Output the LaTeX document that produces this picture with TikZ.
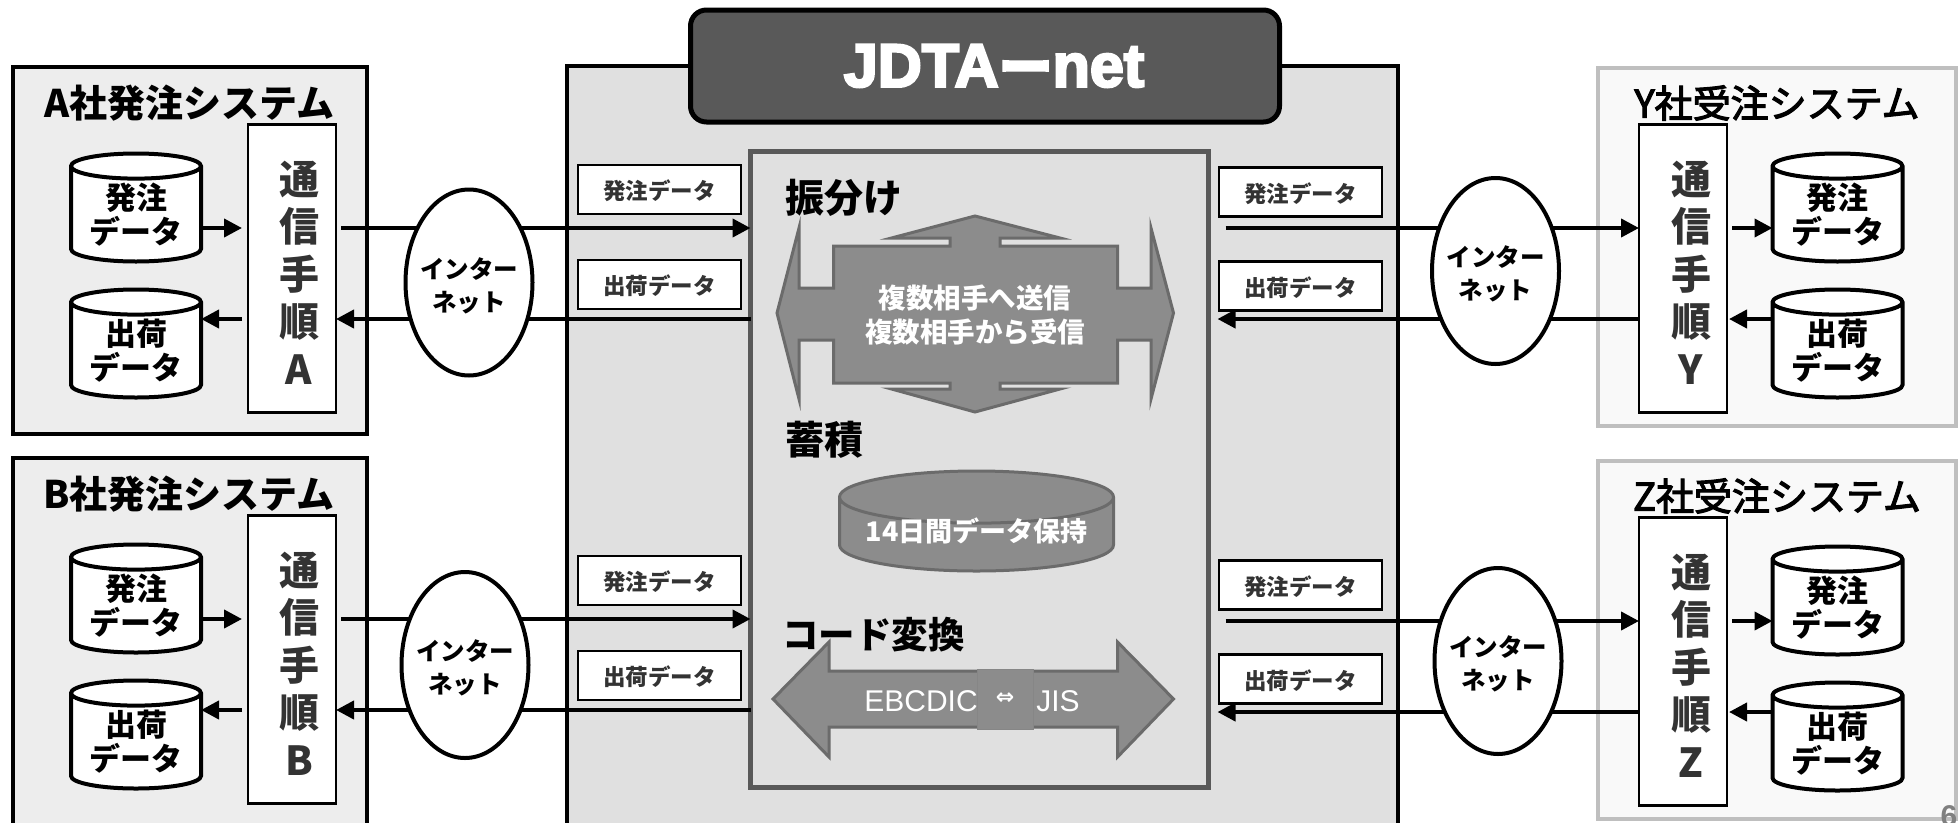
\documentclass[tikz,border=0pt]{standalone}
\usepackage{fontspec}
\setmainfont{Noto Sans CJK JP}
\newfontfamily\mediumfont[FakeBold=3]{Noto Sans CJK JP}
\newfontfamily\latinfont{Liberation Sans}
\newfontfamily\bannerfont[FakeBold=4]{Liberation Sans}
\newfontfamily\bannerdash[FakeBold=3]{Noto Sans CJK JP}
\newfontfamily\symbolfont{DejaVu Sans}
\usetikzlibrary{arrows.meta,shapes.geometric}
\definecolor{panel}{HTML}{E0E0E0}
\definecolor{leftpanel}{HTML}{EDEDED}
\definecolor{rightpanel}{HTML}{F9F9F9}
\definecolor{rightline}{HTML}{BFBFBF}
\definecolor{banner}{HTML}{595959}
\definecolor{shapefill}{HTML}{8C8C8C}
\definecolor{shapeline}{HTML}{6B6B6B}
\definecolor{inktext}{HTML}{333333}
\begin{document}
\begin{tikzpicture}[x=1pt,y=-1pt,
  >={Triangle[length=18pt,width=18pt]},
  flow/.style={line width=4pt},
  syspanel/.style={rectangle,draw,line width=4pt,minimum width=354pt,minimum height=367pt,inner sep=0pt,outer sep=0pt},
  systitle/.style={font=\fontsize{38}{42}\selectfont\bfseries},
  commbox/.style={rectangle,draw,fill=white,line width=2.5pt,minimum width=88pt,minimum height=288pt,inner sep=0pt,outer sep=0pt},
  commtext/.style={align=center,text=inktext,font=\fontsize{40}{47.5}\selectfont\bfseries},
  store/.style={cylinder,shape border rotate=90,aspect=0.27,anchor=shape center,draw,fill=white,line width=4pt,minimum width=130pt,minimum height=108pt,inner sep=0pt,outer sep=0pt,align=center,font=\fontsize{31}{34}\selectfont\bfseries},
  net/.style={ellipse,draw,fill=white,line width=4pt,minimum width=127pt,minimum height=186pt,inner sep=0pt,outer sep=0pt},
  nettext/.style={align=center,inner sep=0pt,font=\fontsize{24.5}{33}\selectfont\bfseries},
  tag/.style={rectangle,draw,fill=white,line width=2.5pt,minimum width=163pt,minimum height=49pt,inner sep=0pt,outer sep=0pt,text=inktext,text height=22pt,text depth=2pt,font=\fontsize{22.5}{26}\selectfont\bfseries},
  heading/.style={anchor=west,inner sep=0pt,font=\fontsize{39}{42}\selectfont\bfseries},
  whitetext/.style={align=center,text=white,font=\fontsize{27.5}{34}\selectfont\bfseries},
  greyshape/.style={draw=shapeline,fill=shapefill,line width=3pt,line join=miter}]
\clip (0,0) rectangle (1959,822);
\fill[white] (0,0) rectangle (1959,822);
% centre panel
\node[rectangle,draw,fill=panel,line width=4pt,minimum width=831pt,minimum height=774pt] (jdta) at (982.5,453) {};
\node[rectangle,draw=banner,fill=panel,line width=5pt,minimum width=458pt,minimum height=636pt,inner sep=0pt,outer sep=0pt] (core) at (979.5,469.5) {};
\node[rectangle,rounded corners=16pt,draw,fill=banner,line width=5pt,minimum width=589pt,minimum height=112pt,text=white,font=\fontsize{61}{66}\selectfont] (title) at (985,66) {\hspace*{18pt}\bannerfont\bfseries JDTA\bannerdash\fontsize{54}{66}\selectfont ー\bannerfont\fontsize{61}{66}\selectfont\bfseries net};
\node[heading] (route) at (785,198) {振分け};
\node[heading] (keep) at (785,440) {蓄積};
\node[heading,font=\fontsize{36.5}{42}\selectfont\bfseries] (convert) at (782,635) {コード変換};
% four way arrow
\draw[greyshape] (975,216) -- (1060,238) -- (1000,238) -- (1000,246) -- (1117.5,246) -- (1117.5,288) -- (1151,288) -- (1151,228) -- (1173.5,313) -- (1151,399) -- (1151,340) -- (1117.5,340) -- (1117.5,383) -- (1000,383) -- (1000,389) -- (1060,389) -- (975,412) -- (891.5,389) -- (950,389) -- (950,383) -- (833.5,383) -- (833.5,340) -- (799,340) -- (799,399) -- (777,313) -- (799,228) -- (799,288) -- (833.5,288) -- (833.5,246) -- (950,246) -- (950,238) -- (891.5,238) -- cycle;
\node[whitetext] (sendrecv) at (975,315) {複数相手へ送信\\複数相手から受信};
\node[cylinder,shape border rotate=90,aspect=0.235,anchor=shape center,draw=shapeline,fill=shapefill,line width=3pt,minimum width=274pt,minimum height=100pt,inner sep=0pt,whitetext,text height=15pt,text depth=2.4pt,font=\fontsize{27}{32}\selectfont\bfseries] (archive) at (976.5,521) {14日間データ保持};
% two way arrow
\draw[greyshape] (773,699) -- (829,642) -- (829,671) -- (1117.5,671) -- (1117.5,642) -- (1173.5,699) -- (1117.5,757) -- (1117.5,727) -- (829,727) -- (829,757) -- cycle;
\node[rectangle,draw=shapefill!96!black,fill=shapefill,line width=1pt,minimum width=56pt,minimum height=60pt,inner sep=0pt,text=white,font=\fontsize{22}{26}\selectfont] (swap) at (1005,699) {\symbolfont\bfseries ⇔};
\node[text=white,inner sep=0pt,font=\fontsize{30}{32}\selectfont] (ebcdic) at (921,701) {\latinfont EBCDIC};
\node[text=white,inner sep=0pt,font=\fontsize{30}{32}\selectfont] (jis) at (1058,701) {\latinfont JIS};
% left systems
\foreach \sys/\dy/\ex/\ey in {A/0/469/282.5,B/391/465/274}{
\begin{scope}[shift={(0,\dy)}]
\node[syspanel,fill=leftpanel] (panel\sys) at (189.5,250) {};
\node[systitle] (name\sys) at (189,103) {\sys 社発注システム};
\node[commbox] (comm\sys) at (292,268.5) {};
\node[commtext] (proto\sys) at (299,272.5) {通\\信\\手\\順\\\sys};
\node[store] (order\sys) at (136,207.5) {発注\\データ};
\node[store] (ship\sys) at (136,343.5) {出荷\\データ};
\node[tag] (ordertag\sys) at (659.5,189.5) {発注データ};
\node[tag] (shiptag\sys) at (659.5,284.5) {出荷データ};
\coordinate (up\sys) at (0,228);
\coordinate (down\sys) at (0,319);
\draw[flow,->] (order\sys.east |- up\sys) -- ([xshift=-6pt]comm\sys.west |- up\sys);
\draw[flow,->] ([xshift=-6pt]comm\sys.west |- down\sys) -- (ship\sys.east |- down\sys);
\draw[flow,->] ([xshift=5pt]comm\sys.east |- up\sys) -- (core.west |- up\sys);
\draw[flow,->] (core.west |- down\sys) -- (comm\sys.east |- down\sys);
\node[net] (net\sys) at (\ex,\ey) {};
\node[nettext] (nettext\sys) at ([yshift=-3pt]net\sys.center) {インター\\ネット};
\end{scope}
}
% right systems
\foreach \sys/\dy/\ex/\ey in {Y/0/1495.5/271,Z/393/1498/268}{
\begin{scope}[shift={(0,\dy)}]
\node[syspanel,draw=rightline,fill=rightpanel,minimum width=358pt,minimum height=358pt] (panel\sys) at (1776.5,246.5) {};
\node[systitle,font=\fontsize{38}{42}\selectfont\mediumfont] (name\sys) at (1777,103) {\sys 社受注システム};
\node[commbox] (comm\sys) at (1683,268.5) {};
\node[commtext] (proto\sys) at (1691,272.5) {通\\信\\手\\順\\\sys};
\node[store] (order\sys) at (1837.5,207.5) {発注\\データ};
\node[store] (ship\sys) at (1837.5,343.5) {出荷\\データ};
\node[tag] (ordertag\sys) at (1300.5,192) {発注データ};
\node[tag] (shiptag\sys) at (1300.5,286) {出荷データ};
\coordinate (up\sys) at (0,228);
\coordinate (down\sys) at (0,319);
\draw[flow,->] ([xshift=5pt]comm\sys.east |- up\sys) -- (order\sys.west |- up\sys);
\draw[flow,->] (ship\sys.west |- down\sys) -- ([xshift=2pt]comm\sys.east |- down\sys);
\draw[flow,->] ([xshift=17pt]core.east |- up\sys) -- (comm\sys.west |- up\sys);
\draw[flow,->] (comm\sys.west |- down\sys) -- ([xshift=9pt]core.east |- down\sys);
\node[net] (net\sys) at (\ex,\ey) {};
\node[nettext] (nettext\sys) at ([yshift=-3pt]net\sys.center) {インター\\ネット};
\end{scope}
}
\node[text=gray,inner sep=0pt,font=\fontsize{30}{32}\selectfont] (page) at (1949,816) {\latinfont\bfseries 6};
\end{tikzpicture}
\end{document}
